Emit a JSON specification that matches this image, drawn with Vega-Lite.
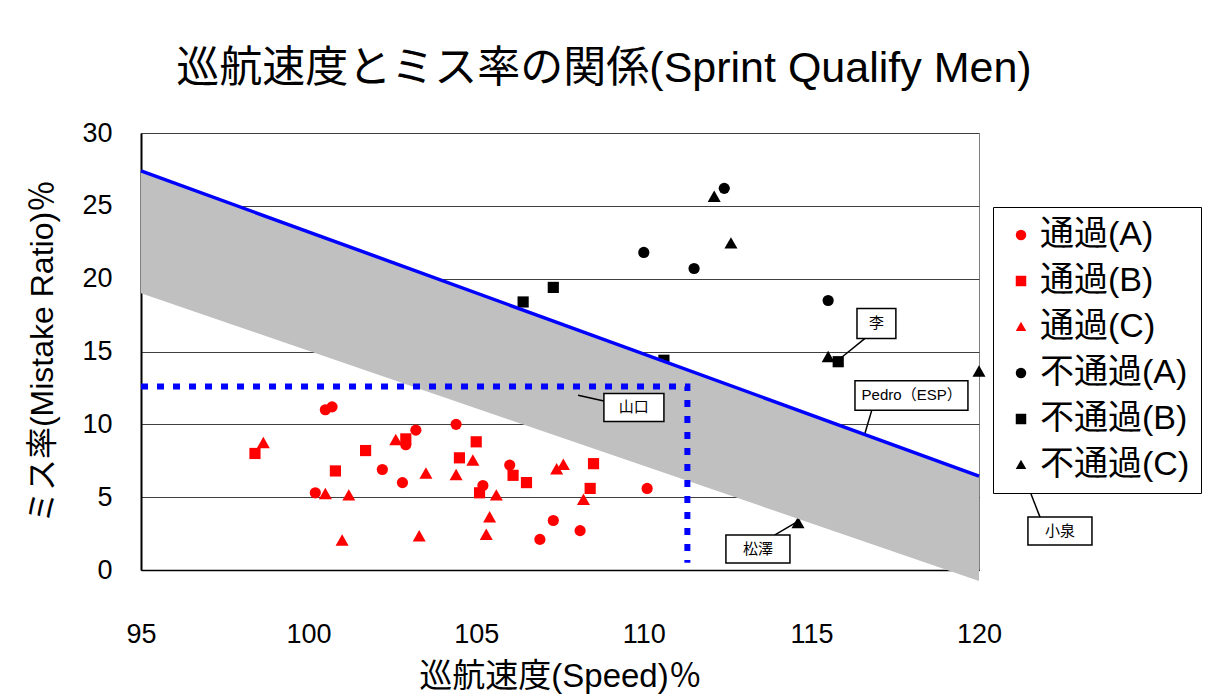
{
  "$schema": "https://vega.github.io/schema/vega-lite/v6.json",
  "width": 838,
  "height": 437,
  "autosize": {"type": "none"},
  "padding": {"left": 141, "top": 133, "right": 236, "bottom": 129},
  "background": "white",
  "title": {
    "text": "巡航速度とミス率の関係(Sprint Qualify Men)",
    "fontSize": 43,
    "fontWeight": "normal",
    "color": "black",
    "anchor": "middle",
    "dx": 44,
    "offset": 28
  },
  "config": {
    "font": "Liberation Sans, Noto Sans CJK JP",
    "view": {"stroke": "#808080", "strokeWidth": 1},
    "axis": {
      "labelFontSize": 27,
      "labelColor": "black",
      "titleColor": "black",
      "titleFontWeight": "normal",
      "domainColor": "black",
      "ticks": false,
      "labelFlush": false,
      "labelOverlap": false
    }
  },
  "datasets": {
    "pts": [
      {"speed": 100.5, "miss": 11.0, "group": "通過(A)"},
      {"speed": 100.7, "miss": 11.2, "group": "通過(A)"},
      {"speed": 100.2, "miss": 5.3, "group": "通過(A)"},
      {"speed": 103.2, "miss": 9.6, "group": "通過(A)"},
      {"speed": 104.4, "miss": 10.0, "group": "通過(A)"},
      {"speed": 102.9, "miss": 8.6, "group": "通過(A)"},
      {"speed": 102.2, "miss": 6.9, "group": "通過(A)"},
      {"speed": 102.8, "miss": 6.0, "group": "通過(A)"},
      {"speed": 105.2, "miss": 5.8, "group": "通過(A)"},
      {"speed": 106.0, "miss": 7.2, "group": "通過(A)"},
      {"speed": 107.3, "miss": 3.4, "group": "通過(A)"},
      {"speed": 108.1, "miss": 2.7, "group": "通過(A)"},
      {"speed": 106.9, "miss": 2.1, "group": "通過(A)"},
      {"speed": 110.1, "miss": 5.6, "group": "通過(A)"},
      {"speed": 98.4, "miss": 8.0, "group": "通過(B)"},
      {"speed": 101.7, "miss": 8.2, "group": "通過(B)"},
      {"speed": 100.8, "miss": 6.8, "group": "通過(B)"},
      {"speed": 102.9, "miss": 9.0, "group": "通過(B)"},
      {"speed": 105.0, "miss": 8.8, "group": "通過(B)"},
      {"speed": 104.5, "miss": 7.7, "group": "通過(B)"},
      {"speed": 105.1, "miss": 5.3, "group": "通過(B)"},
      {"speed": 106.1, "miss": 6.5, "group": "通過(B)"},
      {"speed": 106.5, "miss": 6.0, "group": "通過(B)"},
      {"speed": 108.5, "miss": 7.3, "group": "通過(B)"},
      {"speed": 108.4, "miss": 5.6, "group": "通過(B)"},
      {"speed": 98.65, "miss": 8.7, "group": "通過(C)"},
      {"speed": 100.5, "miss": 5.2, "group": "通過(C)"},
      {"speed": 101.2, "miss": 5.1, "group": "通過(C)"},
      {"speed": 101.0, "miss": 2.0, "group": "通過(C)"},
      {"speed": 102.6, "miss": 8.9, "group": "通過(C)"},
      {"speed": 104.9, "miss": 7.5, "group": "通過(C)"},
      {"speed": 103.5, "miss": 6.6, "group": "通過(C)"},
      {"speed": 104.4, "miss": 6.5, "group": "通過(C)"},
      {"speed": 105.6, "miss": 5.1, "group": "通過(C)"},
      {"speed": 105.4, "miss": 3.6, "group": "通過(C)"},
      {"speed": 105.3, "miss": 2.4, "group": "通過(C)"},
      {"speed": 103.3, "miss": 2.3, "group": "通過(C)"},
      {"speed": 107.4, "miss": 6.9, "group": "通過(C)"},
      {"speed": 107.6, "miss": 7.2, "group": "通過(C)"},
      {"speed": 108.2, "miss": 4.8, "group": "通過(C)"},
      {"speed": 112.4, "miss": 26.2, "group": "不通過(A)"},
      {"speed": 110.0, "miss": 21.8, "group": "不通過(A)"},
      {"speed": 111.5, "miss": 20.7, "group": "不通過(A)"},
      {"speed": 115.5, "miss": 18.5, "group": "不通過(A)"},
      {"speed": 106.4, "miss": 18.4, "group": "不通過(B)"},
      {"speed": 107.3, "miss": 19.4, "group": "不通過(B)"},
      {"speed": 110.6, "miss": 14.4, "group": "不通過(B)"},
      {"speed": 115.8, "miss": 14.3, "group": "不通過(B)"},
      {"speed": 121.5, "miss": 5.6, "group": "不通過(B)"},
      {"speed": 112.1, "miss": 25.6, "group": "不通過(C)"},
      {"speed": 112.6, "miss": 22.4, "group": "不通過(C)"},
      {"speed": 115.5, "miss": 14.6, "group": "不通過(C)"},
      {"speed": 120.0, "miss": 13.6, "group": "不通過(C)"},
      {"speed": 114.6, "miss": 3.2, "group": "不通過(C)"}
    ],
    "band": [
      {"speed": 95, "lower": 19.0, "upper": 27.4},
      {"speed": 120, "lower": -0.75, "upper": 6.45}
    ],
    "dotted": [
      {"i": 1, "speed": 95, "miss": 12.6},
      {"i": 2, "speed": 111.3, "miss": 12.6},
      {"i": 3, "speed": 111.3, "miss": 0.5}
    ],
    "notes": [
      {"label": "李", "x1": 116.36, "x2": 117.52, "y1": 17.95, "y2": 15.9, "tx": 116.94, "ty": 16.93, "px1": 116.6, "py1": 15.9, "px2": 115.85, "py2": 14.5},
      {"label": "Pedro（ESP）", "x1": 116.3, "x2": 119.67, "y1": 13.0, "y2": 10.96, "tx": 117.99, "ty": 11.98, "px1": 116.8, "py1": 10.96, "px2": 116.6, "py2": 9.4},
      {"label": "山口", "x1": 108.81, "x2": 110.6, "y1": 12.12, "y2": 10.2, "tx": 109.7, "ty": 11.16, "px1": 108.81, "py1": 11.6, "px2": 108.04, "py2": 11.99},
      {"label": "松澤", "x1": 112.45, "x2": 114.36, "y1": 2.4, "y2": 0.48, "tx": 113.41, "ty": 1.44, "px1": 113.9, "py1": 2.4, "px2": 114.66, "py2": 3.42},
      {"label": "小泉", "x1": 121.46, "x2": 123.37, "y1": 3.63, "y2": 1.71, "tx": 122.42, "ty": 2.67, "px1": 121.82, "py1": 3.63, "px2": 121.52, "py2": 5.4}
    ]
  },
  "layer": [
    {
      "data": {"name": "pts"},
      "transform": [{"filter": "indexof(datum.group, '(C)') < 0"}],
      "mark": {"type": "point", "filled": true, "opacity": 1, "strokeWidth": 0, "size": 125, "clip": false},
      "encoding": {
        "x": {
          "field": "speed", "type": "quantitative",
          "scale": {"domain": [95, 120], "nice": false, "zero": false},
          "axis": {
            "values": [95, 100, 105, 110, 115, 120],
            "grid": false,
            "labelPadding": 51,
            "domainWidth": 1.5,
            "title": "巡航速度(Speed)％",
            "titleFontSize": 33,
            "titleX": 419,
            "titleY": 106,
            "titleBaseline": "middle",
            "titleAlign": "center"
          }
        },
        "y": {
          "field": "miss", "type": "quantitative",
          "scale": {"domain": [0, 30], "nice": false, "zero": false},
          "axis": {
            "values": [0, 5, 10, 15, 20, 25, 30],
            "grid": true,
            "gridColor": "#404040",
            "gridWidth": 1,
            "labelPadding": 29,
            "domainWidth": 2,
            "title": "ミス率(Mistake Ratio)％",
            "titleFontSize": 32,
            "titleAngle": -90,
            "titleX": -99,
            "titleY": 218,
            "titleBaseline": "middle",
            "titleAlign": "center"
          }
        },
        "color": {
          "field": "group", "type": "nominal",
          "scale": {
            "domain": ["通過(A)", "通過(B)", "通過(C)", "不通過(A)", "不通過(B)", "不通過(C)"],
            "range": ["#FF0000", "#FF0000", "#FF0000", "#000000", "#000000", "#000000"]
          },
          "legend": {
            "orient": "none",
            "legendX": 852,
            "legendY": 74,
            "title": null,
            "labelFontSize": 34,
            "labelColor": "black",
            "symbolSize": 110,
            "symbolStrokeWidth": 0,
            "strokeColor": "black",
            "fillColor": "white",
            "padding": 11,
            "rowPadding": 12,
            "symbolOffset": 0,
            "labelOffset": 2,
            "labelLimit": 0
          }
        },
        "shape": {
          "field": "group", "type": "nominal",
          "scale": {
            "domain": ["通過(A)", "通過(B)", "通過(C)", "不通過(A)", "不通過(B)", "不通過(C)"],
            "range": ["circle", "square", "M0,-1L1,0.75L-1,0.75Z", "circle", "square", "M0,-1L1,0.75L-1,0.75Z"]
          }
        }
      }
    },
    {
      "data": {"name": "pts"},
      "transform": [{"filter": "indexof(datum.group, '(C)') >= 0"}],
      "mark": {"type": "point", "filled": true, "opacity": 1, "strokeWidth": 0, "size": 170, "clip": false},
      "encoding": {
        "x": {"field": "speed", "type": "quantitative"},
        "y": {"field": "miss", "type": "quantitative"},
        "color": {"field": "group", "type": "nominal"},
        "shape": {"field": "group", "type": "nominal"}
      }
    },
    {
      "data": {"name": "band"},
      "mark": {"type": "area", "color": "#C0C0C0", "opacity": 1, "clip": false},
      "encoding": {
        "x": {"field": "speed", "type": "quantitative"},
        "y": {"field": "lower", "type": "quantitative"},
        "y2": {"field": "upper"}
      }
    },
    {
      "data": {"name": "band"},
      "mark": {"type": "line", "color": "#0000FF", "strokeWidth": 3.5},
      "encoding": {
        "x": {"field": "speed", "type": "quantitative"},
        "y": {"field": "upper", "type": "quantitative"}
      }
    },
    {
      "data": {"name": "dotted"},
      "mark": {"type": "line", "color": "#0000FF", "strokeWidth": 6, "strokeDash": [7, 9], "strokeCap": "butt"},
      "encoding": {
        "x": {"field": "speed", "type": "quantitative"},
        "y": {"field": "miss", "type": "quantitative"},
        "order": {"field": "i", "type": "quantitative"}
      }
    },
    {
      "data": {"name": "notes"},
      "mark": {"type": "rule", "color": "black", "strokeWidth": 1.5, "clip": false},
      "encoding": {
        "x": {"field": "px1", "type": "quantitative"},
        "y": {"field": "py1", "type": "quantitative"},
        "x2": {"field": "px2"},
        "y2": {"field": "py2"}
      }
    },
    {
      "data": {"name": "notes"},
      "mark": {"type": "rect", "fill": "white", "stroke": "black", "strokeWidth": 1.5, "clip": false},
      "encoding": {
        "x": {"field": "x1", "type": "quantitative"},
        "x2": {"field": "x2"},
        "y": {"field": "y1", "type": "quantitative"},
        "y2": {"field": "y2"}
      }
    },
    {
      "data": {"name": "notes"},
      "mark": {"type": "text", "fontSize": 15, "color": "black", "align": "center", "baseline": "middle", "clip": false},
      "encoding": {
        "x": {"field": "tx", "type": "quantitative"},
        "y": {"field": "ty", "type": "quantitative"},
        "text": {"field": "label"}
      }
    }
  ]
}
